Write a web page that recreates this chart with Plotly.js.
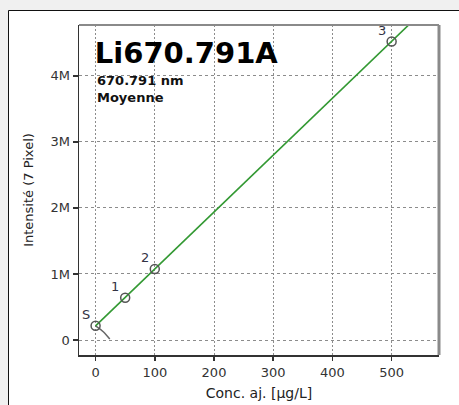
<!DOCTYPE html>
<html>
<head>
<meta charset="utf-8">
<script src="https://cdn.plot.ly/plotly-3.0.1.min.js"></script>
<style>
html,body{margin:0;padding:0;background:#f0f0f0;}
#chart{width:459px;height:405px;}
</style>
</head>
<body>
<div id="chart"></div>
<script>
// Calibration standards
var stdLabels = ['S', '1', '2', '3'];
var stdConc = [0, 50, 100, 500];
var stdIntensity = [217000, 640000, 1076000, 4520000];

// Calibration fit line (end points)
var fitConc = [0, 560];
var fitIntensity = [215000, 5040000];

// Leader tail from the S point
var leaderConc = [0, 13, 24];
var leaderIntensity = [215000, 126000, 15000];

// Axis ticks
var xTickVals = [0, 100, 200, 300, 400, 500];
var xTickText = ['0', '100', '200', '300', '400', '500'];
var yTickVals = [0, 1000000, 2000000, 3000000, 4000000];
var yTickText = ['0', '1M', '2M', '3M', '4M'];

var FONT = 'DejaVu Sans, Verdana, sans-serif';

var traces = [
  {
    x: leaderConc, y: leaderIntensity, mode: 'lines', type: 'scatter',
    line: {color: '#666666', width: 1.5, shape: 'spline'},
    hoverinfo: 'skip', showlegend: false
  },
  {
    x: fitConc, y: fitIntensity, mode: 'lines', type: 'scatter',
    line: {color: '#339933', width: 1.6},
    hoverinfo: 'skip', showlegend: false
  },
  {
    x: stdConc, y: stdIntensity, mode: 'markers', type: 'scatter',
    marker: {symbol: 'circle-open', size: 9, color: '#555555', line: {width: 1.5, color: '#555555'}},
    showlegend: false
  }
];

var annotations = stdLabels.map(function (lab, i) {
  return {
    x: stdConc[i], y: stdIntensity[i], xref: 'x', yref: 'y',
    text: lab, showarrow: false,
    xshift: -10, yshift: 11,
    font: {family: FONT, size: 13, color: '#333344'}
  };
});

annotations.push({
  xref: 'paper', yref: 'paper', x: 0.044, y: 0.8333, xanchor: 'left', yanchor: 'middle',
  text: '<b>670.791 nm</b>', showarrow: false,
  font: {family: FONT, size: 13, color: '#111111'}
});
annotations.push({
  xref: 'paper', yref: 'paper', x: 0.044, y: 0.7788, xanchor: 'left', yanchor: 'middle',
  text: '<b>Moyenne</b>', showarrow: false,
  font: {family: FONT, size: 13, color: '#111111'}
});

var layout = {
  width: 459, height: 405,
  margin: {l: 79, r: 20, t: 25, b: 50, pad: 0},
  paper_bgcolor: '#f0f0f0',
  plot_bgcolor: '#ffffff',
  title: {
    text: '<b>Li670.791A</b>',
    font: {family: FONT, size: 29, color: '#000000'},
    xref: 'paper', yref: 'paper', x: 0.044, xanchor: 'left',
    y: 0.9167, yanchor: 'middle'
  },
  xaxis: {
    range: [-28, 580],
    tickvals: xTickVals, ticktext: xTickText,
    ticks: 'outside', ticklen: 4, tickwidth: 1.5, tickcolor: '#333333',
    showline: true, linecolor: '#333333', linewidth: 2,
    showgrid: true, gridcolor: '#8c8c8c', gridwidth: 1, griddash: '2px,2px',
    zeroline: false,
    tickfont: {family: FONT, size: 13, color: '#333333'},
    title: {text: 'Conc. aj. [µg/L]', font: {family: FONT, size: 14, color: '#222222'}, standoff: 10}
  },
  yaxis: {
    range: [-227000, 4770000],
    tickvals: yTickVals, ticktext: yTickText,
    ticks: 'outside', ticklen: 5, tickwidth: 1.5, tickcolor: '#333333',
    showline: true, linecolor: '#333333', linewidth: 1.5,
    showgrid: true, gridcolor: '#8c8c8c', gridwidth: 1, griddash: '3px,3px',
    zeroline: false,
    tickfont: {family: FONT, size: 13, color: '#333333'},
    title: {text: 'Intensité (7 Pixel)', font: {family: FONT, size: 13, color: '#222222'}, standoff: 14}
  },
  shapes: [
    {type: 'rect', xref: 'paper', yref: 'paper', x0: -0.1958, x1: 1.3, y0: -0.4, y1: 1.0439,
     fillcolor: '#ffffff', line: {color: '#111111', width: 1}, layer: 'below'},
    {type: 'line', xref: 'paper', yref: 'paper', x0: 0, x1: 1, y0: 1, y1: 1,
     line: {color: '#8a8a8a', width: 2}},
    {type: 'line', xref: 'paper', yref: 'paper', x0: 1, x1: 1, y0: 0, y1: 1,
     line: {color: '#8a8a8a', width: 3}}
  ],
  annotations: annotations,
  showlegend: false
};

Plotly.newPlot('chart', traces, layout, {displayModeBar: false, staticPlot: true});
</script>
</body>
</html>
